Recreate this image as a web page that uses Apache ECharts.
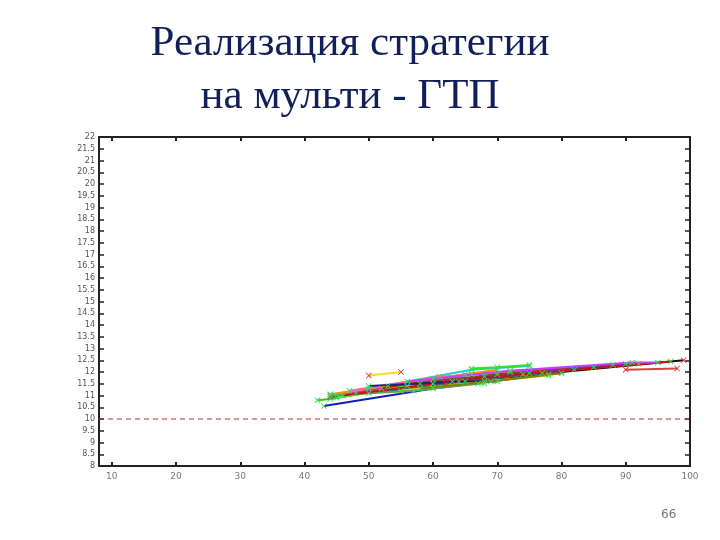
<!DOCTYPE html>
<html>
<head>
<meta charset="utf-8">
<script src="https://cdn.jsdelivr.net/npm/echarts@6/dist/echarts.min.js"></script>
<style>
html,body{margin:0;padding:0;background:#fff;}
#chart{width:720px;height:540px;}
</style>
</head>
<body>
<div id="chart"></div>
<script>
// Data
const xTicks = [10, 20, 30, 40, 50, 60, 70, 80, 90, 100];
const threshold = 10;
const s01 = [[43,10.55],[60,11.3],[78,11.9]];
const s02 = [[50,11.85],[55,12.0]];
const s03 = [[42,10.8],[44,10.85],[58,11.5],[66,11.9]];
const s04 = [[44,10.95],[62,11.5],[80,12.0],[99,12.5]];
const s05 = [[90,12.1],[98,12.15]];
const s06 = [[45,11.0],[65,11.9],[90,12.35]];
const s07 = [[50,11.3],[66,12.1],[75,12.25]];
const s08 = [[44,11.05],[60,11.7],[70,12.1]];
const s09 = [[48,11.1],[63,11.6],[77,11.95]];
const s10 = [[52,11.3],[68,11.8],[85,12.2]];
const s11 = [[45,10.9],[56,11.4],[68,11.5]];
const s12 = [[47,11.2],[61,11.8],[72,12.0]];
const s13 = [[50,11.1],[65,11.6],[82,12.1]];
const s14 = [[53,11.4],[70,11.9],[88,12.3]];
const s15 = [[55,11.2],[68,11.6],[78,11.85]];
const s16 = [[60,11.5],[75,11.95],[92,12.35]];
const s17 = [[44,11.0],[57,11.2],[67,11.5]];
const s18 = [[46,11.0],[60,11.5],[74,11.9],[97,12.45]];
const s19 = [[66,12.15],[70,12.2],[75,12.3]];
const s20 = [[56,11.6],[72,12.05],[91,12.4],[95,12.4]];
const s21 = [[50,11.4],[64,11.6],[70,11.6]];
const s22 = [[58,11.3],[69,11.6],[80,11.95]];

const seriesData = [s01,s02,s03,s04,s05,s06,s07,s08,s09,s10,s11,s12,s13,s14,s15,s16,s17,s18,s19,s20,s21,s22];
const lineColors = ['#1a1ab8','#f0e020','#22cc22','#111111','#e04040','#e020c0','#20d0d0','#ff8c00','#8a2be2','#a01020',
                    '#66ee22','#ff66aa','#108080','#8b4513','#e8d000','#2050ff','#60a060','#d01010','#30e030','#c040ff','#202080','#808000'];
const crossPath = 'path://M0,1L1,0L5,4L9,0L10,1L6,5L10,9L9,10L5,6L1,10L0,9L4,5Z';

const series = seriesData.map((d, i) => ({
  type: 'line',
  data: d,
  symbol: crossPath,
  symbolSize: 6,
  showSymbol: true,
  lineStyle: {color: lineColors[i], width: 2},
  itemStyle: {color: (i === 1 || i === 4 || i === 3) ? '#e03030' : '#33dd55'},
  animation: false,
  z: 3
}));
series.push({
  type: 'line',
  data: [[8, threshold], [100, threshold]],
  symbol: 'none',
  lineStyle: {color: '#c82828', type: [5, 4], width: 1},
  itemStyle: {color: '#c82828'},
  animation: false,
  z: 2
});

const chart = echarts.init(document.getElementById('chart'));
chart.setOption({
  backgroundColor: '#ffffff',
  animation: false,
  title: {
    text: 'Реализация стратегии\nна мульти - ГТП',
    left: 345,
    textAlign: 'center',
    top: 12,
    textStyle: {fontFamily: 'Liberation Serif', fontSize: 43, fontWeight: 'normal', color: '#12205a', lineHeight: 53}
  },
  graphic: [{
    type: 'text', left: 661, top: 509,
    style: {text: '66', fontFamily: 'DejaVu Sans', fontSize: 12, fill: '#777'}
  }],
  grid: {left: 99, right: 30, top: 137, bottom: 74, show: false},
  xAxis: [{
    type: 'value', min: 8, max: 100, position: 'bottom',
    axisLine: {show: true, lineStyle: {color: '#222', width: 2}},
    axisTick: {show: true, inside: true, length: 4, customValues: xTicks, lineStyle: {color: '#222', width: 2}},
    axisLabel: {customValues: xTicks, fontSize: 9, color: '#777', fontFamily: 'DejaVu Sans', margin: 6},
    splitLine: {show: false}
  },{
    type: 'value', min: 8, max: 100, position: 'top',
    axisLine: {show: true, lineStyle: {color: '#222', width: 2}},
    axisTick: {show: true, inside: true, length: 4, customValues: xTicks, lineStyle: {color: '#222', width: 2}},
    axisLabel: {show: false},
    splitLine: {show: false}
  }],
  yAxis: [{
    type: 'value', min: 8, max: 22, interval: 0.5, position: 'left',
    axisLine: {show: true, lineStyle: {color: '#222', width: 2}},
    axisTick: {show: true, inside: true, length: 5, lineStyle: {color: '#222', width: 1.5}},
    axisLabel: {fontSize: 8, color: '#555', fontFamily: 'DejaVu Sans', margin: 4},
    splitLine: {show: false}
  },{
    type: 'value', min: 8, max: 22, interval: 0.5, position: 'right',
    axisLine: {show: true, lineStyle: {color: '#222', width: 2}},
    axisTick: {show: true, inside: true, length: 5, lineStyle: {color: '#222', width: 1.5}},
    axisLabel: {show: false},
    splitLine: {show: false}
  }],
  series: series
});
</script>
</body>
</html>
